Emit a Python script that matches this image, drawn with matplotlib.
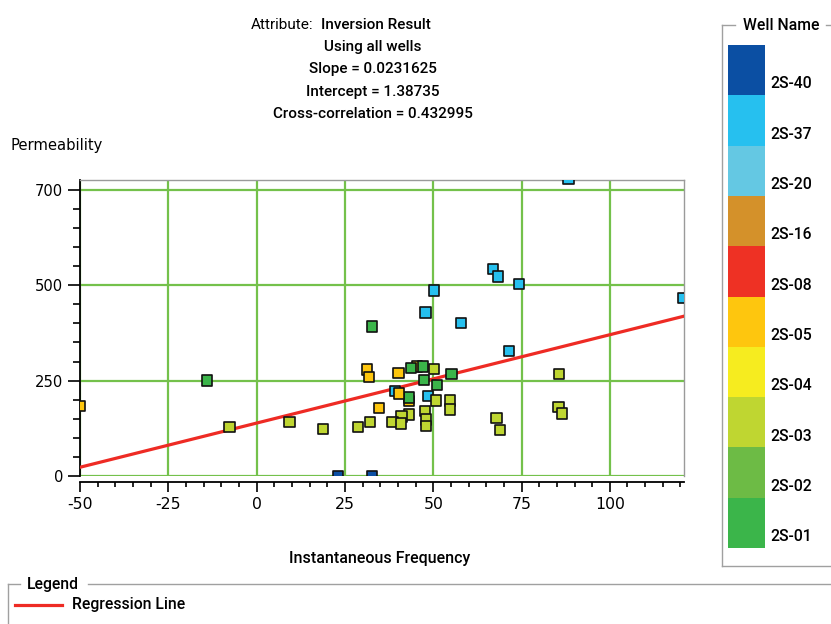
import numpy as np
import matplotlib.pyplot as plt
from matplotlib.patches import Rectangle
from matplotlib.ticker import MultipleLocator

plt.rcParams['axes.unicode_minus'] = False

# well key, top to bottom
wells = ['2S-40', '2S-37', '2S-20', '2S-16', '2S-08',
         '2S-05', '2S-04', '2S-03', '2S-02', '2S-01']
well_colors = ['#0b4fa3', '#26c0ef', '#64c8e3', '#d4912a', '#ee3124',
               '#fec60e', '#f6ec1f', '#bfd631', '#6dbb45', '#3bb54a']

# cross-plot samples: instantaneous frequency, permeability, well
point_freq = [23.1, 32.6,
              88.3, 67.0, 68.3, 74.2, 50.3, 120.8, 47.8, 57.9, 71.5, 48.6, 39.2,
              -50.0, 31.3, 31.9, 34.7, 40.2, 45.5, 43.2,
              -14.0, 32.6, 43.7, 47.2, 55.2, 47.4, 51.0, 43.2,
              40.4,
              -7.7, 9.3, 18.7, 28.8, 32.1, 50.3, 50.7, 54.8, 54.8, 43.2, 41.0,
              38.5, 40.9, 47.7, 48.0, 48.0, 85.6, 85.5, 86.5, 67.9, 68.9]
point_perm = [0, 0,
              778, 543, 523, 503, 486, 466, 429, 401, 327, 210, 222,
              184, 279, 259, 178, 270, 287, 196,
              250, 392, 284, 287, 268, 251, 239, 206,
              216,
              129, 141, 124, 129, 141, 280, 198, 198, 174, 161, 156,
              142, 138, 170, 148, 131, 267, 181, 164, 152, 120]
point_well = ['2S-40'] * 2 + ['2S-37'] * 11 + ['2S-05'] * 7 + ['2S-01'] * 8 \
    + ['2S-05'] + ['2S-03'] * 21

# regression fit as reported, permeability shown in hundredths
slope = 0.0231625
intercept = 1.38735
cross_corr = 0.432995
perm_scale = 100

x_ticks = [-50, -25, 0, 25, 50, 75, 100]
y_ticks = [0, 250, 500, 750]
y_tick_labels = ['0', '250', '500', '700']

W, H = 831, 624
fig = plt.figure(figsize=(W / 100, H / 100), dpi=100)

txt_font = ['Roboto', 'Liberation Sans', 'DejaVu Sans']

# frames and well key drawn in pixel space
ov = fig.add_axes([0, 0, 1, 1])
ov.set_xlim(0, W)
ov.set_ylim(H, 0)
ov.axis('off')

frame_kw = dict(color='#a0a0a0', lw=1.0)
ov.plot([722, 735], [25, 25], **frame_kw)
ov.plot([826, 831], [25, 25], **frame_kw)
ov.plot([722, 722], [25, 566], **frame_kw)
ov.plot([722, 831], [566, 566], **frame_kw)
ov.text(781, 25, 'Well Name', ha='center', va='center', fontsize=11.3,
        family=txt_font, fontweight='medium')

patch_top, patch_h = 45, 50.3
for i, (name, col) in enumerate(zip(wells, well_colors)):
    ov.add_patch(Rectangle((728, patch_top + i * patch_h), 37, patch_h,
                           facecolor=col, edgecolor='none'))
    ov.text(770, patch_top + i * patch_h + 39, name, ha='left', va='center',
            fontsize=11.3, family=txt_font, fontweight='medium')

ov.plot([8, 20], [584, 584], **frame_kw)
ov.plot([88, 831], [584, 584], **frame_kw)
ov.plot([8, 8], [584, 624], **frame_kw)
ov.text(27, 584, 'Legend', ha='left', va='center', fontsize=11.3,
        family=txt_font, fontweight='medium')
ov.plot([15, 62], [605, 605], color='#ee2b24', lw=2.3)
ov.text(72, 605, 'Regression Line', ha='left', va='center', fontsize=11.3,
        family=txt_font, fontweight='medium')

# main cross-plot
ax = fig.add_axes([80 / W, (H - 476) / H, 604 / W, 296 / H])
ax.set_xlim(-50, 121)
ax.set_ylim(0, 776)

ax.set_xticks(x_ticks)
ax.set_yticks(y_ticks)
ax.set_yticklabels(y_tick_labels)
ax.xaxis.set_minor_locator(MultipleLocator(5))
ax.yaxis.set_minor_locator(MultipleLocator(50))
ax.grid(True, which='major', color='#74c14b', lw=1.6)
ax.set_axisbelow(True)

ax.tick_params(axis='y', which='major', length=9, width=1.2, pad=3,
               labelsize=10.6, labelfontfamily='DejaVu Sans')
ax.tick_params(axis='y', which='minor', length=5, width=1.2)
ax.tick_params(axis='x', which='major', length=7, width=1.2, pad=4,
               labelsize=11.3)
ax.tick_params(axis='x', which='minor', length=3.5, width=1.2)
for lab in ax.get_xticklabels():
    lab.set_family(txt_font)
    lab.set_fontweight('medium')

for side in ['top', 'right']:
    ax.spines[side].set_color('#9a9a9a')
    ax.spines[side].set_linewidth(1.0)
ax.spines['left'].set_linewidth(1.3)
ax.spines['bottom'].set_linewidth(1.3)
ax.spines['bottom'].set_position(('outward', 4))

xs = np.array(point_freq)
ys = np.array(point_perm)
cols = [well_colors[wells.index(w)] for w in point_well]
ax.scatter(xs, ys, marker='s', s=55, c=cols, edgecolors='#111111',
           linewidths=1.2, zorder=4)

xl = np.array(ax.get_xlim())
ax.plot(xl, perm_scale * (slope * xl + intercept), color='#ee2b24', lw=2.3,
        zorder=3)

# titles and axis names
fig.text(313 / W, 1 - 25 / H, 'Attribute:', ha='right', va='center',
         fontsize=11, family=txt_font)
fig.text(321 / W, 1 - 25 / H, 'Inversion Result', ha='left', va='center',
         fontsize=11, family=txt_font, fontweight='medium')
stats = ['Using all wells',
         'Slope = %g' % slope,
         'Intercept = %g' % intercept,
         'Cross-correlation = %g' % cross_corr]
for i, line in enumerate(stats):
    fig.text(373 / W, 1 - (47 + 22.3 * i) / H, line, ha='center',
             va='center', fontsize=11, family=txt_font, fontweight='medium')

fig.text(11 / W, 1 - 145 / H, 'Permeability', ha='left', va='center',
         fontsize=10.6, family='DejaVu Sans')
fig.text(380 / W, 1 - 558 / H, 'Instantaneous Frequency', ha='center',
         va='center', fontsize=11.5, family=txt_font, fontweight='medium')

fig.savefig('out.png', dpi=100)
